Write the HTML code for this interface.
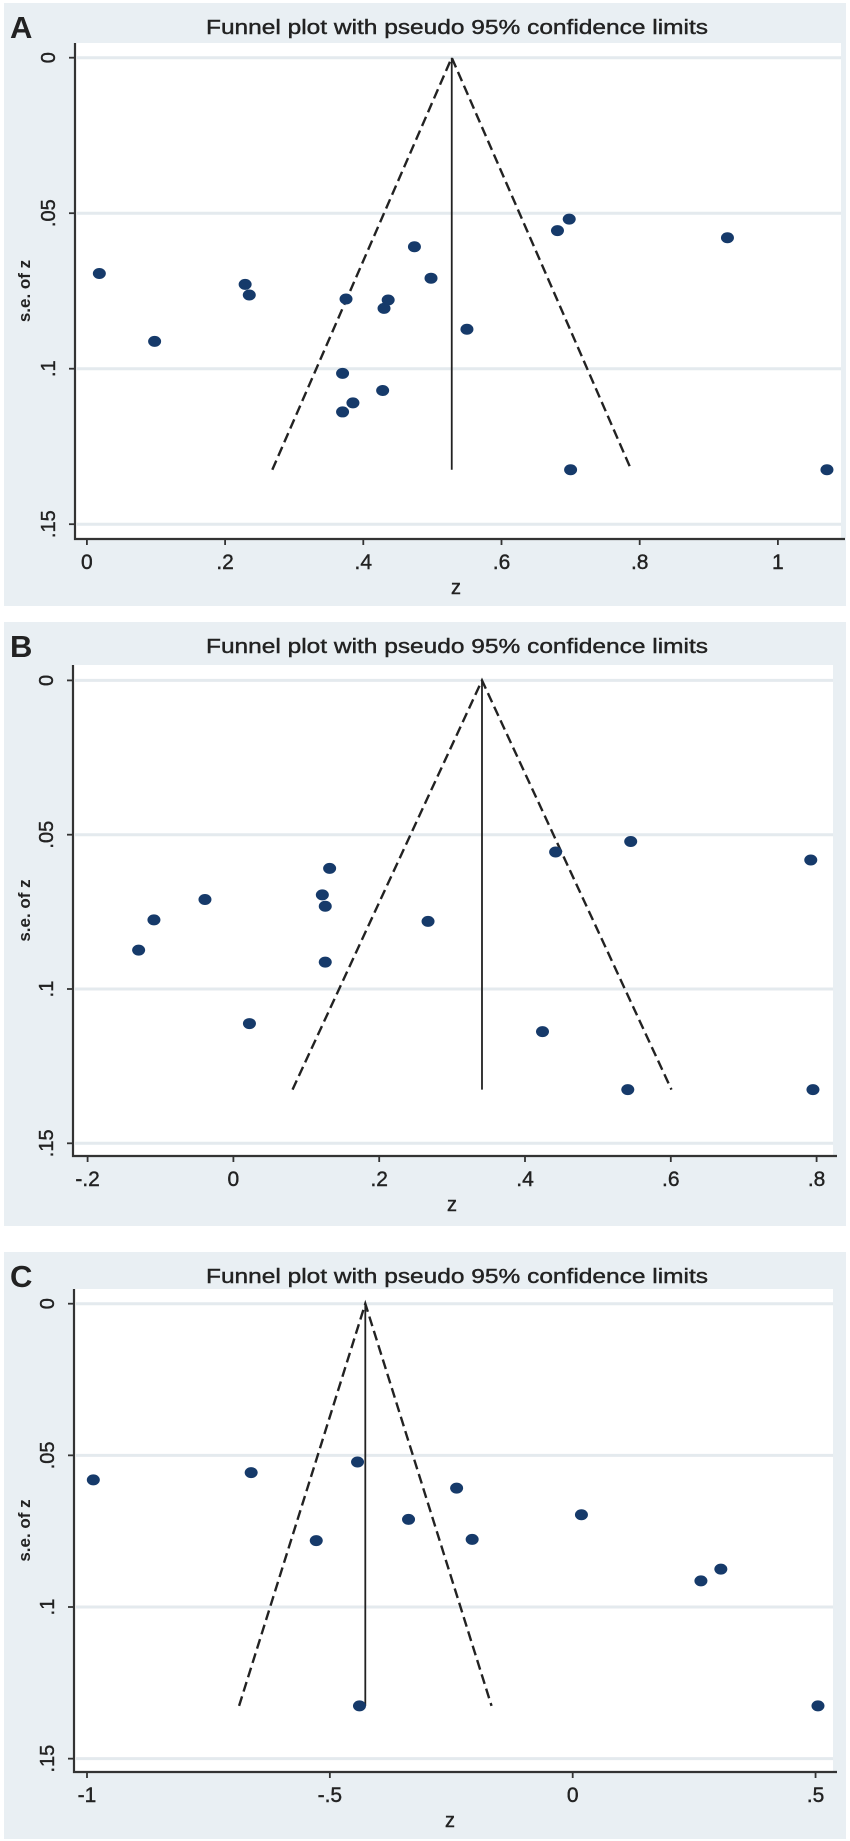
<!DOCTYPE html>
<html><head><meta charset="utf-8"><style>
html,body{margin:0;padding:0;background:#fff;}
svg{display:block;}
text{font-family:"Liberation Sans",sans-serif;fill:#222;}
</style></head>
<body>
<svg id="fig" width="850" height="1841" viewBox="0 0 850 1841" xmlns="http://www.w3.org/2000/svg"></svg>
<script>
// Panel A data
const aZ = [0.018,0.098,0.229,0.235,0.375,0.370,0.370,0.385,0.428,0.430,0.436,0.474,0.498,0.550,0.681,0.698,0.927,0.700,1.071];
const aSE = [0.0694,0.0912,0.0729,0.0763,0.0776,0.1015,0.1139,0.1110,0.1070,0.0806,0.0779,0.0608,0.0709,0.0873,0.0556,0.0519,0.0579,0.1325,0.1325];
const aCenter = 0.528;
const aMaxSE = 0.1325;
const aXTicks = [0,0.2,0.4,0.6,0.8,1];
const aXLabels = ["0",".2",".4",".6",".8","1"];
// Panel B data
const bZ = [-0.130,-0.109,-0.039,0.022,0.132,0.122,0.126,0.126,0.267,0.424,0.442,0.545,0.792,0.541,0.795];
const bSE = [0.0874,0.0776,0.0710,0.1112,0.0609,0.0695,0.0732,0.0913,0.0781,0.1138,0.0556,0.0522,0.0582,0.1326,0.1326];
const bCenter = 0.341;
const bMaxSE = 0.1326;
const bXTicks = [-0.2,0,0.2,0.4,0.6,0.8];
const bXLabels = ["-.2","0",".2",".4",".6",".8"];
// Panel C data
const cZ = [-0.987,-0.662,-0.443,-0.528,-0.338,-0.239,-0.207,0.018,0.264,0.305,-0.439,0.505];
const cSE = [0.0581,0.0557,0.0522,0.0781,0.0711,0.0608,0.0777,0.0696,0.0914,0.0875,0.1326,0.1326];
const cCenter = -0.427;
const cMaxSE = 0.1326;
const cXTicks = [-1,-0.5,0,0.5];
const cXLabels = ["-1","-.5","0",".5"];
// shared y ticks
const yTicks = [0,0.05,0.1,0.15];
const yLabels = ["0",".05",".1",".15"];

const NS="http://www.w3.org/2000/svg";
const svg=document.getElementById('fig');
function mk(tag,attrs,parent){const e=document.createElementNS(NS,tag);for(const k in attrs)e.setAttribute(k,attrs[k]);(parent||svg).appendChild(e);return e;}

function panel(cfg){
  const g=mk('g',{});
  
  
  const bg=mk('rect',{x:4,y:cfg.top,width:842,height:cfg.bottom-cfg.top,fill:'#e9eff3'},g);
  
  
  const pa=mk('rect',{x:cfg.axX,y:cfg.plotTop,width:cfg.plotRight-cfg.axX,height:cfg.axY-cfg.plotTop,fill:'#ffffff'},g);
  
  
  const xs=v=>cfg.x0+(v-cfg.xv0)*cfg.xk;
  const ys=v=>cfg.y0+v*cfg.yk;
  yTicks.forEach((t,i)=>{
    const y=ys(t);
    const gl=mk('line',{x1:cfg.axX+2,x2:cfg.plotRight,y1:y,y2:y,stroke:'#e4eaee','stroke-width':3},g);
    
    
    mk('line',{x1:cfg.axX-6,x2:cfg.axX,y1:y,y2:y,stroke:'#333','stroke-width':1.8},g);
    const tx=mk('text',{x:0,y:0,'font-size':20,'text-anchor':'middle',stroke:'#222','stroke-width':0.4,transform:`translate(${cfg.axX-20},${y}) rotate(-90)`},g);
    tx.textContent=yLabels[i];
    
    
  });
  cfg.xt.forEach((t,i)=>{
    const x=xs(t);
    mk('line',{x1:x,x2:x,y1:cfg.axY,y2:cfg.axY+6,stroke:'#333','stroke-width':1.8},g);
    const tx=mk('text',{x:x,y:cfg.axY+30,'font-size':21,'text-anchor':'middle',stroke:'#222','stroke-width':0.4},g);
    tx.textContent=cfg.xl[i];
    
    
  });
  const ax=mk('path',{d:`M${cfg.axX},${cfg.plotTop} V${cfg.axY} H${cfg.plotRight+4}`,fill:'none',stroke:'#333','stroke-width':2.2},g);
  
  
  const apx=xs(cfg.center), apy=ys(0), by=ys(cfg.maxSE);
  const lx=xs(cfg.center-1.96*cfg.maxSE), rx=xs(cfg.center+1.96*cfg.maxSE);
  const fl=mk('path',{d:`M${lx},${by} L${apx},${apy} L${rx},${by}`,fill:'none',stroke:'#222','stroke-width':2.4,'stroke-dasharray':'10 5'},g);
  
  
  const vl=mk('line',{x1:apx,x2:apx,y1:apy,y2:by,stroke:'#222','stroke-width':1.8},g);
  
  
  cfg.z.forEach((z,i)=>{
    const p=mk('ellipse',{cx:xs(z),cy:ys(cfg.se[i]),rx:6.5,ry:5.5,fill:'#163a6a'},g);
    
    
  });
  const ti=mk('text',{x:457,y:cfg.top+31,'font-size':20,'text-anchor':'middle',stroke:'#222','stroke-width':0.4,textLength:502,lengthAdjust:'spacingAndGlyphs'},g);
  ti.textContent='Funnel plot with pseudo 95% confidence limits';
  
  
  const lt=mk('text',{x:10,y:cfg.top+35,'font-size':31,'font-weight':'bold',fill:'#000'},g);
  lt.textContent=cfg.letter;
  
  
  const xt=mk('text',{x:cfg.zX,y:cfg.axY+55,'font-size':20,'text-anchor':'middle',stroke:'#222','stroke-width':0.4},g);
  xt.textContent='z';
  
  
  const yt=mk('text',{x:0,y:0,'font-size':17,'font-weight':'bold','text-anchor':'middle',transform:`translate(30,${(cfg.plotTop+cfg.axY)/2}) rotate(-90)`},g);
  yt.textContent='s.e. of z';
  
  
}

panel({letter:'A',top:3,bottom:606,plotTop:43,axY:539,axX:75,plotRight:841,
  x0:86.9,xv0:0,xk:691,y0:57.7,yk:3110,z:aZ,se:aSE,center:aCenter,maxSE:aMaxSE,xt:aXTicks,xl:aXLabels,zX:456});
panel({letter:'B',top:622,bottom:1226,plotTop:665,axY:1156,axX:73,plotRight:833,
  x0:233.4,xv0:0,xk:729,y0:680.4,yk:3086,z:bZ,se:bSE,center:bCenter,maxSE:bMaxSE,xt:bXTicks,xl:bXLabels,zX:452});
panel({letter:'C',top:1252,bottom:1839,plotTop:1289,axY:1772,axX:74,plotRight:833,
  x0:572.7,xv0:0,xk:485.7,y0:1303.7,yk:3033,z:cZ,se:cSE,center:cCenter,maxSE:cMaxSE,xt:cXTicks,xl:cXLabels,zX:450});
</script>
</body></html>
